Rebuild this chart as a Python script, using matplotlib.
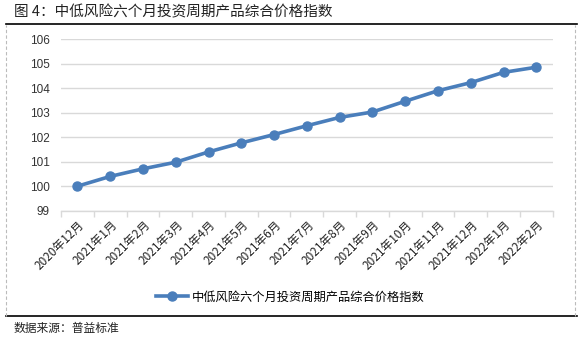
import matplotlib
matplotlib.use("Agg")
import matplotlib.pyplot as plt
from matplotlib.lines import Line2D
import numpy as np

plt.rcParams['font.family'] = ['Noto Sans CJK SC', 'DejaVu Sans']

categories = ["2020年12月", "2021年1月", "2021年2月", "2021年3月", "2021年4月",
              "2021年5月", "2021年6月", "2021年7月", "2021年8月", "2021年9月",
              "2021年10月", "2021年11月", "2021年12月", "2022年1月", "2022年2月"]
values = [100.00, 100.40, 100.71, 100.98, 101.40, 101.77, 102.11, 102.47,
          102.81, 103.03, 103.47, 103.90, 104.23, 104.65, 104.86]
yticks = [99, 100, 101, 102, 103, 104, 105, 106]
series_name = "中低风险六个月投资周期产品综合价格指数"
title = "图 4：中低风险六个月投资周期产品综合价格指数"
source = "数据来源：普益标准"

W, H = 583, 337
fig = plt.figure(figsize=(W/100, H/100), dpi=100)

ax = fig.add_axes([61/W, 1-210.7/H, (552.7-61)/W, (210.7-39.3)/H])
x = np.arange(len(categories))
color = "#4A7EBB"
ax.plot(x, values, color=color, lw=2.6, marker='o', ms=6.5, zorder=3,
        solid_capstyle='round')
ax.set_xlim(-0.5, len(categories)-0.5)
ax.set_ylim(99, 106)
ax.set_yticks(yticks)
ax.set_yticklabels([str(v) for v in yticks], fontsize=8.5, color="#333333",
                   family=['Liberation Sans', 'DejaVu Sans'])
ax.yaxis.grid(True, color="#D9D9D9", lw=1)
ax.set_axisbelow(True)
ax.tick_params(axis='y', length=0, pad=8)
for s in ['left', 'right', 'top']:
    ax.spines[s].set_visible(False)
ax.spines['bottom'].set_color("#D9D9D9")
ax.spines['bottom'].set_linewidth(1)
ax.set_xticks(np.arange(-0.5, len(categories)), minor=True)
ax.tick_params(axis='x', which='minor', length=4, color="#D9D9D9", width=1)
ax.set_xticks(x)
ax.set_xticklabels(categories, rotation=45, ha='right', va='center',
                   rotation_mode='anchor', fontsize=8.5, color="#222222")
ax.tick_params(axis='x', which='major', length=0, pad=9)
for lbl in ax.get_xticklabels():
    lbl.set_transform(lbl.get_transform() + matplotlib.transforms.ScaledTranslation(5/100, 0, fig.dpi_scale_trans))

# legend
handle = Line2D([], [], color=color, lw=2.6, marker='o', ms=6.5)
fig.legend([handle], [series_name], loc='center', bbox_to_anchor=(290/W, 1-297/H),
           frameon=False, fontsize=8.8, handlelength=2.6, handletextpad=0.3)

# title and frame
fig.text(14/W, 1-12/H, title, fontsize=10.5, va='center', ha='left', color="#222222")
fig.add_artist(Line2D([6/W, 577/W], [1-24/H, 1-24/H], color='black', lw=1.2))
fig.add_artist(Line2D([6/W, 577/W], [1-316/H, 1-316/H], color='black', lw=1.2))
for xx in [6/W, 575/W]:
    fig.add_artist(Line2D([xx, xx], [1-316/H, 1-25/H], color='#BBBBBB', lw=0.8, ls=(0, (3, 2))))
fig.text(14/W, 1-328/H, source, fontsize=8.5, va='center', ha='left', color="#222222")

fig.savefig("out.png", dpi=100)
